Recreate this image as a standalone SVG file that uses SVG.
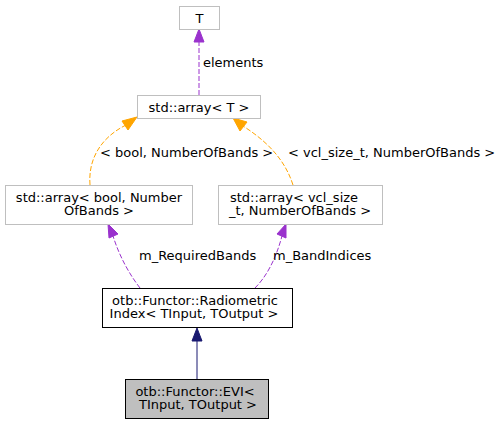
<svg xmlns="http://www.w3.org/2000/svg" width="503" height="425" viewBox="0 0 503 425">
<style>
text{font-family:"DejaVu Sans",sans-serif;font-size:13px;fill:#000}
.m{text-anchor:middle}
.n{fill:#fff;stroke:#bfbfbf;stroke-width:1}
.b{fill:#fff;stroke:#000;stroke-width:1}
.g{fill:#bfbfbf;stroke:#000;stroke-width:1}
.p{fill:none;stroke:#9a32cd;stroke-dasharray:5,2}
.o{fill:none;stroke:#ffa500;stroke-dasharray:5,2}
.s{fill:none;stroke:#191970}
</style>
<g id="edges">
<path class="p" d="M199,95 L199,41"/>
<polygon points="194,42 199,29 204,42" fill="#9a32cd" stroke="#9a32cd"/>
<text x="203" y="67">elements</text>
<path class="o" d="M90,185 C88,160 100,138 126,125"/>
<polygon points="122,121 137,117 128,130" fill="#ffa500" stroke="#ffa500"/>
<text x="100" y="157">&lt; bool, NumberOfBands &gt;</text>
<path class="o" d="M293,185 C285,160 268,142 243,126"/>
<polygon points="240,131 233,118 247,122" fill="#ffa500" stroke="#ffa500"/>
<text x="288" y="157">&lt; vcl_size_t, NumberOfBands &gt;</text>
<path class="p" d="M140,288 C130,275 120,258 113,236"/>
<polygon points="109,238 108,224 118,234" fill="#9a32cd" stroke="#9a32cd"/>
<text x="139" y="260">m_RequiredBands</text>
<path class="p" d="M255,288 C265,278 275,262 282,236"/>
<polygon points="277,234 286,224 286,238" fill="#9a32cd" stroke="#9a32cd"/>
<text x="273" y="260">m_BandIndices</text>
<path class="s" d="M197,379 L197,340"/>
<polygon points="192,341 197,328 202,341" fill="#191970" stroke="#191970"/>
</g>
<g id="node_T">
<rect class="n" x="179.5" y="6.5" width="40" height="23"/>
<text class="m" x="199.5" y="23">T</text>
</g>
<g id="node_arrayT">
<rect class="n" x="137.5" y="95.5" width="123" height="23"/>
<text class="m" x="199" y="112">std::array&lt; T &gt;</text>
</g>
<g id="node_arrayBool">
<rect class="n" x="5.5" y="185.5" width="187" height="39"/>
<text class="m" x="99" y="202">std::array&lt; bool, Number</text>
<text class="m" x="99" y="215">OfBands &gt;</text>
</g>
<g id="node_arrayVcl">
<rect class="n" x="218.5" y="185.5" width="164" height="39"/>
<text class="m" x="294" y="202">std::array&lt; vcl_size</text>
<text class="m" x="300" y="215">_t, NumberOfBands &gt;</text>
</g>
<g id="node_Radiometric">
<rect class="b" x="102.5" y="288.5" width="190" height="39"/>
<text class="m" x="195" y="305">otb::Functor::Radiometric</text>
<text class="m" x="194" y="318">Index&lt; TInput, TOutput &gt;</text>
</g>
<g id="node_EVI">
<rect class="g" x="125.5" y="379.5" width="143" height="39"/>
<text class="m" x="195" y="396">otb::Functor::EVI&lt;</text>
<text class="m" x="198" y="409">TInput, TOutput &gt;</text>
</g>
</svg>
